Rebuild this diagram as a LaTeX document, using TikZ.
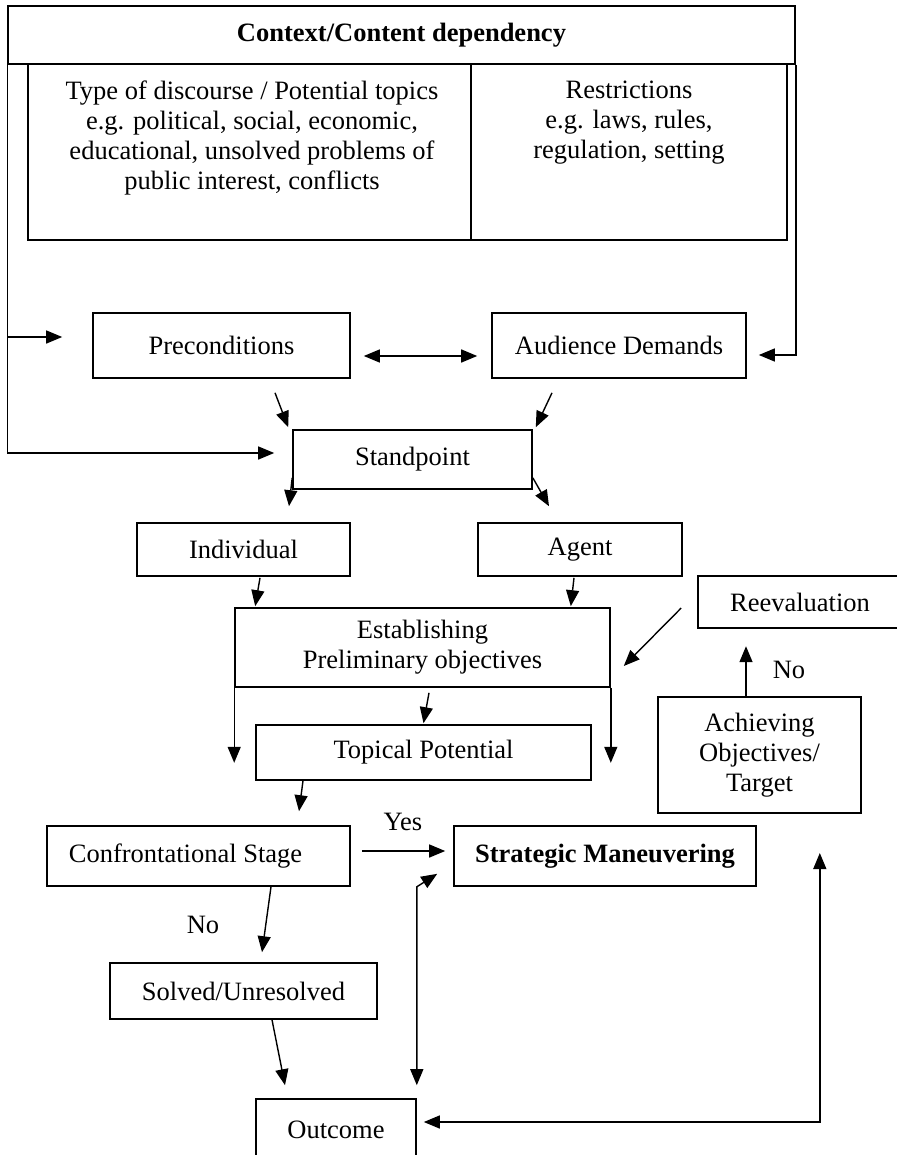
\documentclass[tikz,border=0pt]{standalone}
\usepackage{fontspec}
\setmainfont{Liberation Serif}
\usetikzlibrary{arrows.meta}

\begin{document}
\begin{tikzpicture}[x=0.5pt,y=-0.5pt,line width=0.7pt,
  >={Triangle[length=8pt,width=6.5pt]},
  every node/.style={font=\fontsize{13.25}{15}\selectfont},
  box/.style={draw,rectangle,inner sep=2pt,align=center,line width=0.8pt}]
\useasboundingbox (0,0) rectangle (897,1155);
\clip (0,0) rectangle (897,1155);

% context box and its table
\node[box,minimum width=393.5pt,minimum height=29pt] (hdr) at (401.5,35) {\textbf{Context/Content dependency}};
\node[box,minimum width=221.5pt,minimum height=88pt] (typ) at (249.5,152) {};
\node[box,minimum width=158pt,minimum height=88pt] (res) at (629,152) {};
\node[align=center] (typtxt) at (252,138) {Type of discourse / Potential topics\\e.g. political, social, economic,\\educational, unsolved problems of\\public interest, conflicts};
\node[align=center] (restxt) at (629,123) {Restrictions\\e.g. laws, rules,\\regulation, setting};

\node[box,minimum width=128.5pt,minimum height=32.5pt] (pre) at (221.5,345.5) {Preconditions};
\node[box,minimum width=127pt,minimum height=32.5pt] (aud) at (619,345.5) {Audience Demands};
\node[box,minimum width=119.5pt,minimum height=29.5pt] (std) at (412.5,459.5) {Standpoint};
\node[box,minimum width=106.5pt,minimum height=26.5pt] (ind) at (243.5,549.5) {Individual};
\node[box,minimum width=102pt,minimum height=26.5pt] (agt) at (580,549.5) {Agent};
\node[box,minimum width=102pt,minimum height=26pt] (ree) at (800,602) {Reevaluation};
\node[box,minimum width=187.5pt,minimum height=39.5pt] (est) at (422.5,647.5) {Establishing\\Preliminary objectives};
\node[box,minimum width=167.5pt,minimum height=27.5pt] (top) at (423.5,752.5) {Topical Potential};
\node[box,minimum width=101.5pt,minimum height=58pt] (ach) at (759.5,755) {Achieving\\Objectives/\\Target};
\node[box,minimum width=151.5pt,minimum height=30pt] (con) at (198.5,856) {Confrontational Stage\hspace*{13pt}};
\node[box,minimum width=151pt,minimum height=30pt] (str) at (605,856) {\textbf{Strategic Maneuvering}};
\node[box,minimum width=133.5pt,minimum height=28pt] (sol) at (243.5,991) {Solved/Unresolved};
\node[box,minimum width=80pt,minimum height=30.5pt] (out) at (336,1129.5) {Outcome};

\node (yes) at (403,822) {Yes};
\node (no1) at (789,670) {No};
\node (no2) at (203,925) {No};

% side lines from the context box
\coordinate (p1) at ([shift={(-15pt,4.25pt)}]pre.west);
\draw[->] (hdr.south west |- p1) -- (p1);
\draw[->] (hdr.south west) |- ([shift={(-9pt,3.25pt)}]std.west);
\draw[->] (hdr.south east) |- ([shift={(6pt,-4.75pt)}]aud.east);
\draw[<->] ([shift={(6.5pt,-5.25pt)}]pre.east) -- ([shift={(-7pt,-5.25pt)}]aud.west);

\draw[->] ([shift={(26.75pt,-7pt)}]pre.south) -- ([shift={(-2pt,1pt)}]std.north west);
\draw[->] ([shift={(-33.5pt,-7pt)}]aud.south) -- ([shift={(1.5pt,1pt)}]std.north east);
\draw[->] ([yshift=6pt]std.south west) -- ([shift={(22.75pt,8pt)}]ind.north);
\draw[->] ([yshift=6pt]std.south east) -- ([shift={(-15.5pt,8pt)}]agt.north);
\draw[->] ([shift={(8.25pt,-0.5pt)}]ind.south) -- ([shift={(10.5pt,0.5pt)}]est.north west);
\draw[->] ([shift={(-3pt,-0.5pt)}]agt.south) -- ([shift={(-20pt,0.5pt)}]est.north east);
\draw[->] ([shift={(-8pt,-3pt)}]ree.west) -- ([shift={(6.5pt,-9.25pt)}]est.east);
\draw[->] (est.south west) -- ([yshift=-37.5pt]est.south west);
\draw[->] (est.south east) -- ([yshift=-37.5pt]est.south east);
\draw[->] ([shift={(3.25pt,-2.5pt)}]est.south) -- ([yshift=0.5pt]top.north);
\draw[->] ([xshift=-6.75pt]ach.north) -- ([shift={(-6.75pt,25pt)}]ach.north);
\draw[->] ([xshift=-60.25pt]top.south) -- ([shift={(50.25pt,7pt)}]con.north);
\draw[->] ([shift={(5.5pt,2.5pt)}]con.east) -- ([shift={(-4pt,2.5pt)}]str.west);
\draw[->] ([xshift=36.25pt]con.south) -- ([shift={(9.25pt,5pt)}]sol.north);
\draw[->] ([xshift=14.25pt]sol.south) -- ([shift={(-25.5pt,6.5pt)}]out.north);
\draw[<->] ([yshift=6.5pt]out.north east) -- (out.north east |- str.south) -- ([shift={(-8pt,6.5pt)}]str.south west);
\draw[<->] ([shift={(3.5pt,3.75pt)}]out.east) -| ([shift={(31.5pt,1.5pt)}]str.east);
\end{tikzpicture}
\end{document}
